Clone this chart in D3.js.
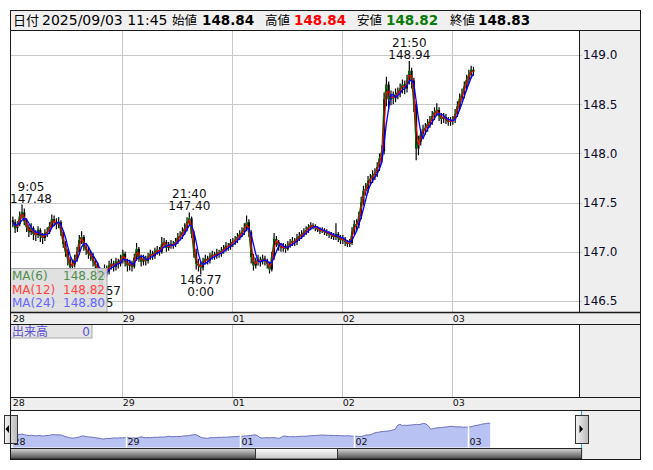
<!DOCTYPE html>
<html><head><meta charset="utf-8">
<script src="https://cdn.jsdelivr.net/npm/d3@7"></script>
<style>
html,body{margin:0;padding:0;background:#fff;}
svg{display:block;font-family:"DejaVu Sans","Noto Sans CJK JP",sans-serif;}
</style></head><body>
<svg id="c" width="653" height="470"></svg>
<script>
// ---------- DATA (30-minute bars, 28 Aug 7:00 .. 03 Sep 11:30) ----------
const closes = [
147.30,147.24,147.28,147.36,147.40,147.31,147.25,147.20,147.24,147.18,147.17,147.22,147.16,147.14,147.19,147.20,147.26,147.33,147.30,147.28,147.30,147.20,147.08,147.00,146.92,146.85,146.87,146.93,147.00,147.12,147.15,147.05,147.02,146.98,146.96,146.90,146.86,146.82,146.72,146.78,146.82,146.80,146.86,146.88,146.85,146.90,146.88,146.92,
146.98,146.90,146.86,146.88,146.85,146.94,147.03,146.95,146.90,146.93,146.91,146.95,146.98,146.96,147.00,147.02,147.00,147.08,147.10,147.04,147.06,147.08,147.07,147.10,147.15,147.16,147.20,147.24,147.30,147.34,147.18,147.00,146.88,146.86,146.84,146.90,146.93,146.91,146.95,146.97,146.96,146.99,146.98,147.01,147.03,147.06,147.05,147.09,
147.10,147.12,147.15,147.18,147.20,147.24,147.30,147.20,146.95,146.86,146.90,146.92,146.90,146.93,146.91,146.88,146.82,146.95,147.13,147.10,147.06,147.04,147.05,147.03,147.07,147.09,147.11,147.10,147.14,147.16,147.18,147.20,147.22,147.25,147.27,147.26,147.24,147.23,147.21,147.22,147.20,147.19,147.18,147.17,147.15,147.18,147.14,147.12,
147.13,147.10,147.08,147.09,147.20,147.28,147.27,147.36,147.50,147.62,147.64,147.72,147.74,147.78,147.80,147.86,147.95,148.02,148.55,148.70,148.55,148.58,148.56,148.60,148.62,148.66,148.70,148.66,148.74,148.84,148.74,148.50,148.05,148.12,148.20,148.24,148.26,148.30,148.33,148.38,148.42,148.44,148.38,148.35,148.37,148.34,148.32,148.33,
148.34,148.40,148.48,148.56,148.60,148.68,148.75,148.80,148.85,148.83];
const opens = [147.32,
147.30,147.24,147.28,147.36,147.40,147.31,147.25,147.20,147.24,147.18,147.17,147.22,147.16,147.14,147.19,147.20,147.26,147.33,147.30,147.28,147.30,147.20,147.08,147.00,146.92,146.85,146.87,146.93,147.00,147.12,147.15,147.05,147.02,146.98,146.96,146.90,146.86,146.82,146.72,146.78,146.82,146.80,146.86,146.88,146.85,146.90,146.88,146.92,
146.98,146.90,146.86,146.88,146.85,146.94,147.03,146.95,146.90,146.93,146.91,146.95,146.98,146.96,147.00,147.02,147.00,147.08,147.10,147.04,147.06,147.08,147.07,147.10,147.15,147.16,147.20,147.24,147.30,147.34,147.18,147.00,146.88,146.86,146.84,146.90,146.93,146.91,146.95,146.97,146.96,146.99,146.98,147.01,147.03,147.06,147.05,147.09,
147.10,147.12,147.15,147.18,147.20,147.24,147.30,147.20,146.95,146.86,146.90,146.92,146.90,146.93,146.91,146.88,146.82,146.95,147.13,147.10,147.06,147.04,147.05,147.03,147.07,147.09,147.11,147.10,147.14,147.16,147.18,147.20,147.22,147.25,147.27,147.26,147.24,147.23,147.21,147.22,147.20,147.19,147.18,147.17,147.15,147.18,147.14,147.12,
147.13,147.10,147.08,147.09,147.20,147.28,147.27,147.36,147.50,147.62,147.64,147.72,147.74,147.78,147.80,147.86,147.95,148.02,148.55,148.70,148.55,148.58,148.56,148.60,148.62,148.66,148.70,148.66,148.74,148.84,148.74,148.50,148.05,148.12,148.20,148.24,148.26,148.30,148.33,148.38,148.42,148.44,148.38,148.35,148.37,148.34,148.32,148.33,
148.34,148.40,148.48,148.56,148.60,148.68,148.75,148.80,148.85];
const highs = [
147.36,147.33,147.31,147.41,147.48,147.44,147.34,147.28,147.29,147.26,147.22,147.26,147.24,147.19,147.23,147.25,147.30,147.38,147.37,147.34,147.35,147.32,147.22,147.11,147.03,146.95,146.92,146.97,147.05,147.17,147.21,147.17,147.08,147.05,147.01,146.99,146.93,146.89,146.84,146.83,146.87,146.86,146.91,146.93,146.91,146.94,146.93,146.97,
147.02,147.00,146.93,146.92,146.91,146.98,147.09,147.05,146.97,146.97,146.96,146.99,147.02,147.01,147.04,147.06,147.05,147.15,147.14,147.12,147.10,147.12,147.11,147.14,147.19,147.21,147.25,147.29,147.35,147.40,147.36,147.21,147.03,146.93,146.91,146.94,146.97,146.96,146.99,147.01,147.00,147.03,147.02,147.05,147.07,147.10,147.09,147.13,
147.14,147.16,147.19,147.22,147.25,147.29,147.37,147.33,147.22,146.98,146.94,146.97,146.95,146.97,146.96,146.93,146.90,147.00,147.19,147.16,147.12,147.09,147.09,147.08,147.11,147.13,147.15,147.14,147.18,147.20,147.22,147.24,147.26,147.28,147.30,147.29,147.28,147.26,147.25,147.25,147.24,147.23,147.21,147.20,147.19,147.29,147.20,147.17,
147.17,147.15,147.12,147.13,147.25,147.32,147.33,147.41,147.56,147.67,147.70,147.77,147.79,147.83,147.85,147.91,148.00,148.08,148.62,148.78,148.73,148.64,148.63,148.66,148.67,148.71,148.75,148.74,148.80,148.94,148.87,148.77,148.53,148.18,148.25,148.29,148.31,148.35,148.38,148.43,148.47,148.51,148.47,148.41,148.41,148.40,148.37,148.37,
148.38,148.45,148.53,148.61,148.66,148.73,148.80,148.85,148.89,148.88];
const lows = [
147.25,147.19,147.20,147.26,147.33,147.27,147.20,147.15,147.17,147.12,147.11,147.14,147.10,147.08,147.11,147.15,147.18,147.24,147.26,147.23,147.24,147.16,147.04,146.95,146.86,146.79,146.81,146.84,146.90,146.97,147.08,147.01,146.97,146.93,146.91,146.85,146.80,146.74,146.57,146.66,146.73,146.75,146.77,146.82,146.80,146.81,146.83,146.85,
146.88,146.85,146.80,146.81,146.80,146.83,146.91,146.90,146.85,146.86,146.86,146.88,146.92,146.92,146.93,146.97,146.96,146.98,147.04,147.00,147.01,147.03,147.03,147.05,147.08,147.12,147.13,147.17,147.21,147.27,147.14,146.94,146.82,146.80,146.77,146.81,146.87,146.87,146.88,146.92,146.92,146.93,146.94,146.95,146.98,147.00,147.01,147.02,
147.05,147.07,147.09,147.12,147.15,147.17,147.21,147.15,146.88,146.81,146.83,146.86,146.85,146.87,146.86,146.83,146.78,146.80,146.92,147.05,147.01,147.00,147.00,146.99,147.01,147.04,147.06,147.06,147.07,147.11,147.13,147.15,147.17,147.19,147.22,147.23,147.21,147.20,147.18,147.19,147.17,147.16,147.14,147.13,147.12,147.12,147.10,147.08,
147.08,147.06,147.05,147.05,147.07,147.17,147.22,147.24,147.33,147.47,147.57,147.60,147.67,147.70,147.73,147.76,147.82,147.91,147.99,148.48,148.46,148.49,148.50,148.52,148.55,148.57,148.61,148.60,148.62,148.70,148.66,148.42,147.93,147.98,148.08,148.15,148.19,148.22,148.26,148.29,148.34,148.38,148.33,148.30,148.31,148.30,148.28,148.28,
148.29,148.31,148.37,148.45,148.52,148.56,148.64,148.71,148.76,148.79];

const dayLabels = ["28","29","01","02","03"];
const dayStarts = [0,48,96,144,192];
const priceTicks = [146.5,147.0,147.5,148.0,148.5,149.0];
const maNames = ["MA(6)","MA(12)","MA(24)"];
const maSpans = [1,2,4];            // 6/12/24 five-minute bars expressed in 30-minute bars
const maLegendValues = [148.82,148.82,148.80];
const extremeIdx = [4,77,173,82,38];
const extremeKind = ["high","high","high","low","low"];
const extremeTime = ["9:05","21:40","21:50","0:00","2:05"];
const headerDate = "2025/09/03 11:45";
const headerNames = ["始値","高値","安値","終値"];
const headerValues = [148.84,148.84,148.82,148.83];
const volumeValue = 0;

// ---------- LAYOUT ----------
const svg = d3.select("#c");
const L = 10, R = 641, AX = 579;
const T = 10.5, HB = 30, MB = 312.5, S1B = 324, VB = 397, S2B = 410, NB = 448, B = 459.5;
const N = closes.length;

const x = d3.scaleLinear().domain([-1.24, 247.05]).range([L, AX]);
const y = d3.scaleLinear().domain([146.5, 149.0]).range([301, 55]);
const xn = d3.scaleLinear().domain([-1.13, 239.5]).range([L, 581.6]);
const yn = d3.scaleLinear().domain([145.6, 149.5]).range([447.5, 418.4]);

const defs = svg.append("defs");
defs.append("clipPath").attr("id","clipMain").append("rect").attr("x",L).attr("y",HB).attr("width",AX-L).attr("height",MB-HB);
defs.append("clipPath").attr("id","clipNav").append("rect").attr("x",L).attr("y",S2B).attr("width",581.6-L).attr("height",NB-S2B);
const gBar = defs.append("linearGradient").attr("id","gBar").attr("x1",0).attr("y1",0).attr("x2",0).attr("y2",1);
gBar.append("stop").attr("offset","0%").attr("stop-color","#d8d8d8");
gBar.append("stop").attr("offset","100%").attr("stop-color","#4a4a4a");
const gThumb = defs.append("linearGradient").attr("id","gThumb").attr("x1",0).attr("y1",0).attr("x2",0).attr("y2",1);
gThumb.append("stop").attr("offset","0%").attr("stop-color","#ffffff");
gThumb.append("stop").attr("offset","100%").attr("stop-color","#c4c4c4");
const gBtn = defs.append("linearGradient").attr("id","gBtn").attr("x1",0).attr("y1",0).attr("x2",1).attr("y2",0);
gBtn.append("stop").attr("offset","0%").attr("stop-color","#f4f4f4");
gBtn.append("stop").attr("offset","100%").attr("stop-color","#b8b8b8");

// backgrounds
svg.append("rect").attr("x",L).attr("y",T).attr("width",R-L).attr("height",HB-T).attr("fill","#f0f0f0");
svg.append("rect").attr("x",AX).attr("y",HB).attr("width",R-AX).attr("height",VB-HB).attr("fill","#eeeeee");
svg.append("rect").attr("x",L).attr("y",MB).attr("width",R-L).attr("height",S1B-MB).attr("fill","#eeeeee");
svg.append("rect").attr("x",L).attr("y",VB).attr("width",R-L).attr("height",S2B-VB).attr("fill","#eeeeee");
svg.append("rect").attr("x",581.6).attr("y",S2B).attr("width",R-581.6).attr("height",B-S2B).attr("fill","#eeeeee");

// gridlines
const dayX = dayStarts.map(s => x(s - 0.5));
const grid = svg.append("g").attr("stroke","#c8c8c8").attr("stroke-width",1);
priceTicks.forEach(p => grid.append("line").attr("x1",L).attr("x2",AX+3).attr("y1",Math.round(y(p))+0.5).attr("y2",Math.round(y(p))+0.5));
dayX.forEach((dx,k) => { if (k===0) return;
  grid.append("line").attr("x1",Math.round(dx)+0.5).attr("x2",Math.round(dx)+0.5).attr("y1",HB).attr("y2",MB);
  grid.append("line").attr("x1",Math.round(dx)+0.5).attr("x2",Math.round(dx)+0.5).attr("y1",S1B).attr("y2",VB);
});

// candles
const gm = svg.append("g").attr("clip-path","url(#clipMain)");
const bw = (x(1)-x(0))*0.9;
gm.selectAll("line.wick").data(d3.range(N)).join("line").attr("class","wick")
  .attr("x1",i=>x(i)).attr("x2",i=>x(i)).attr("y1",i=>y(highs[i])).attr("y2",i=>y(lows[i]))
  .attr("stroke","#000").attr("stroke-width",1.2);
gm.selectAll("rect.body").data(d3.range(N)).join("rect").attr("class","body")
  .attr("x",i=>x(i)-bw/2).attr("width",bw)
  .attr("y",i=>Math.min(y(opens[i]),y(closes[i])))
  .attr("height",i=>Math.max(1,Math.abs(y(opens[i])-y(closes[i]))))
  .attr("fill","#000");

// moving averages
const maColors = ["#006e00","#ff0000","#0000ff"];
maSpans.forEach((sp,k) => {
  const pts = [];
  for (let i = 0; i < N; i++) {
    const a = Math.max(0, i-sp+1);
    pts.push([i, d3.mean(closes.slice(a, i+1))]);
  }
  gm.append("path").datum(pts).attr("fill","none").attr("stroke",maColors[k])
    .attr("stroke-width",k===2?1.3:1.1)
    .attr("d", d3.line().x(d=>x(d[0])).y(d=>y(d[1])));
});

// extreme annotations
const gA = svg.append("g").attr("font-size",12).attr("fill","#111").attr("text-anchor","middle");
extremeIdx.forEach((idx,k) => {
  const hi = extremeKind[k]==="high";
  const price = (hi ? highs[idx] : lows[idx]).toFixed(2);
  const py = y(hi ? highs[idx] : lows[idx]);
  let b1, b2, t1, t2;
  if (hi) { t1 = extremeTime[k]; t2 = price; b1 = py-14; b2 = py-2; }
  else { t1 = price; t2 = extremeTime[k]; b1 = py+10; b2 = py+22;
    const over = b2 - (MB-5.5); if (over > 0) { b1 -= over; b2 -= over; } }
  const e1 = gA.append("text").attr("y",b1).text(t1);
  const e2 = gA.append("text").attr("y",b2).text(t2);
  const w = Math.max(e1.node().getComputedTextLength(), e2.node().getComputedTextLength());
  let cx = x(idx);
  cx = Math.max(L + w/2, Math.min(AX - w/2, cx));
  e1.attr("x",cx); e2.attr("x",cx);
});

// MA legend
const gl = svg.append("g");
gl.append("rect").attr("x",L+0.5).attr("y",268.5).attr("width",96.5).attr("height",MB-268.5)
  .attr("fill","rgba(222,222,222,0.9)").attr("stroke","#a8a8a8");
const legCol = ["#4e8e4e","#ff4444","#6666ff"];
maNames.forEach((nm,k) => {
  gl.append("text").attr("x",12).attr("y",280+k*13.5).attr("font-size",12).attr("fill",legCol[k]).text(nm);
  gl.append("text").attr("x",105).attr("y",280+k*13.5).attr("font-size",12).attr("text-anchor","end").attr("fill",legCol[k]).text(maLegendValues[k].toFixed(2));
});

// price axis labels
const gy = svg.append("g").attr("font-size",12).attr("fill","#0a0a28");
priceTicks.forEach(p => gy.append("text").attr("x",AX+4).attr("y",y(p)).attr("dy","0.36em").text(p.toFixed(1)));

// time strip labels
const gx = svg.append("g").attr("font-size",9.5).attr("fill","#111");
dayLabels.forEach((lb,k) => {
  gx.append("text").attr("x",Math.max(L+1.5,dayX[k]+1)).attr("y",MB+9.3).text(lb);
  gx.append("text").attr("x",Math.max(L+1.5,dayX[k]+1)).attr("y",VB+9.3).text(lb);
});

// volume legend
const gv = svg.append("g");
gv.append("rect").attr("x",L+0.5).attr("y",S1B+0.5).attr("width",81.5).attr("height",13.5).attr("fill","#e4e4e4").attr("stroke","#a8a8a8");
gv.append("text").attr("x",12).attr("y",S1B+11.5).attr("font-size",12).attr("fill","#5a4fd0").text("出来高");
gv.append("text").attr("x",90).attr("y",S1B+11.5).attr("font-size",12).attr("text-anchor","end").attr("fill","#5a4fd0").text(String(volumeValue));

// navigator
const gn = svg.append("g").attr("clip-path","url(#clipNav)");
gn.append("path").datum(d3.range(N)).attr("fill","#b9c3f3")
  .attr("d", d3.area().x(i=>xn(i)).y0(yn.range()[0]).y1(i=>yn(closes[i])));
gn.append("path").datum(d3.range(N)).attr("fill","none").attr("stroke","#6a6fb8").attr("stroke-width",1)
  .attr("d", d3.line().x(i=>xn(i)).y(i=>yn(closes[i])));
const navDayX = dayStarts.map(s => xn(s-0.5));
navDayX.forEach((dx,k) => {
  if (k>0) gn.append("line").attr("x1",Math.round(dx)+0.5).attr("x2",Math.round(dx)+0.5).attr("y1",S2B).attr("y2",NB).attr("stroke","#fff").attr("stroke-width",1.5);
  gn.append("text").attr("x",dx+2).attr("y",445).attr("font-size",9.5).attr("fill","#111").text(dayLabels[k]);
});
svg.append("line").attr("x1",L+0.5).attr("x2",L+0.5).attr("y1",S2B).attr("y2",NB).attr("stroke","#2aa7d8");
svg.append("line").attr("x1",581.5).attr("x2",581.5).attr("y1",S2B).attr("y2",NB).attr("stroke","#2aa7d8");
// buttons
[[4.5,"M9 425 L9 433 L5.5 429 Z"],[575.5,"M579.5 425 L579.5 433 L583 429 Z"]].forEach(([bx,tri]) => {
  svg.append("rect").attr("x",bx).attr("y",415.5).attr("width",13).attr("height",28).attr("fill","url(#gBtn)").attr("stroke","#333");
  svg.append("path").attr("d",tri).attr("fill","#000");
});
// scrollbar
svg.append("rect").attr("x",L+0.5).attr("y",NB+0.5).attr("width",581.6-L-0.5).attr("height",B-NB-1).attr("fill","url(#gBar)").attr("stroke","#222");
svg.append("rect").attr("x",255.5).attr("y",NB+0.5).attr("width",82).attr("height",B-NB-1).attr("fill","url(#gThumb)").attr("stroke","#333");

// frame lines
const fr = svg.append("g").attr("stroke","#1a1a1a").attr("fill","none");
fr.append("rect").attr("x",L+0.5).attr("y",T).attr("width",R-L-1).attr("height",B-T);
fr.append("line").attr("x1",L).attr("x2",R).attr("y1",HB+0.5).attr("y2",HB+0.5);
fr.append("line").attr("x1",L).attr("x2",R).attr("y1",MB).attr("y2",MB).attr("stroke-width",1.5);
fr.append("line").attr("x1",L).attr("x2",R).attr("y1",S1B+0.5).attr("y2",S1B+0.5);
fr.append("line").attr("x1",L).attr("x2",R).attr("y1",VB+0.5).attr("y2",VB+0.5);
fr.append("line").attr("x1",L).attr("x2",R).attr("y1",S2B+0.5).attr("y2",S2B+0.5);
fr.append("line").attr("x1",AX+0.5).attr("x2",AX+0.5).attr("y1",HB).attr("y2",MB);
fr.append("line").attr("x1",AX+0.5).attr("x2",AX+0.5).attr("y1",S1B).attr("y2",VB);

// header
const gh = svg.append("g").attr("fill","#000");
const hy = 25;
gh.append("text").attr("x",13).attr("y",hy).attr("font-size",13).text("日付");
gh.append("text").attr("x",42).attr("y",hy).attr("font-size",14).text(headerDate);
const hNameX = [172,265,357,450], hValX = [202,294,386,478];
const hValCol = ["#000","#ff0000","#0a7a0a","#000"];
headerNames.forEach((nm,k) => {
  gh.append("text").attr("x",hNameX[k]).attr("y",hy).attr("font-size",12.5).text(nm);
  gh.append("text").attr("x",hValX[k]).attr("y",hy).attr("font-size",13.5).attr("font-weight","bold").attr("fill",hValCol[k]).text(headerValues[k].toFixed(2));
});
</script>
</body></html>
